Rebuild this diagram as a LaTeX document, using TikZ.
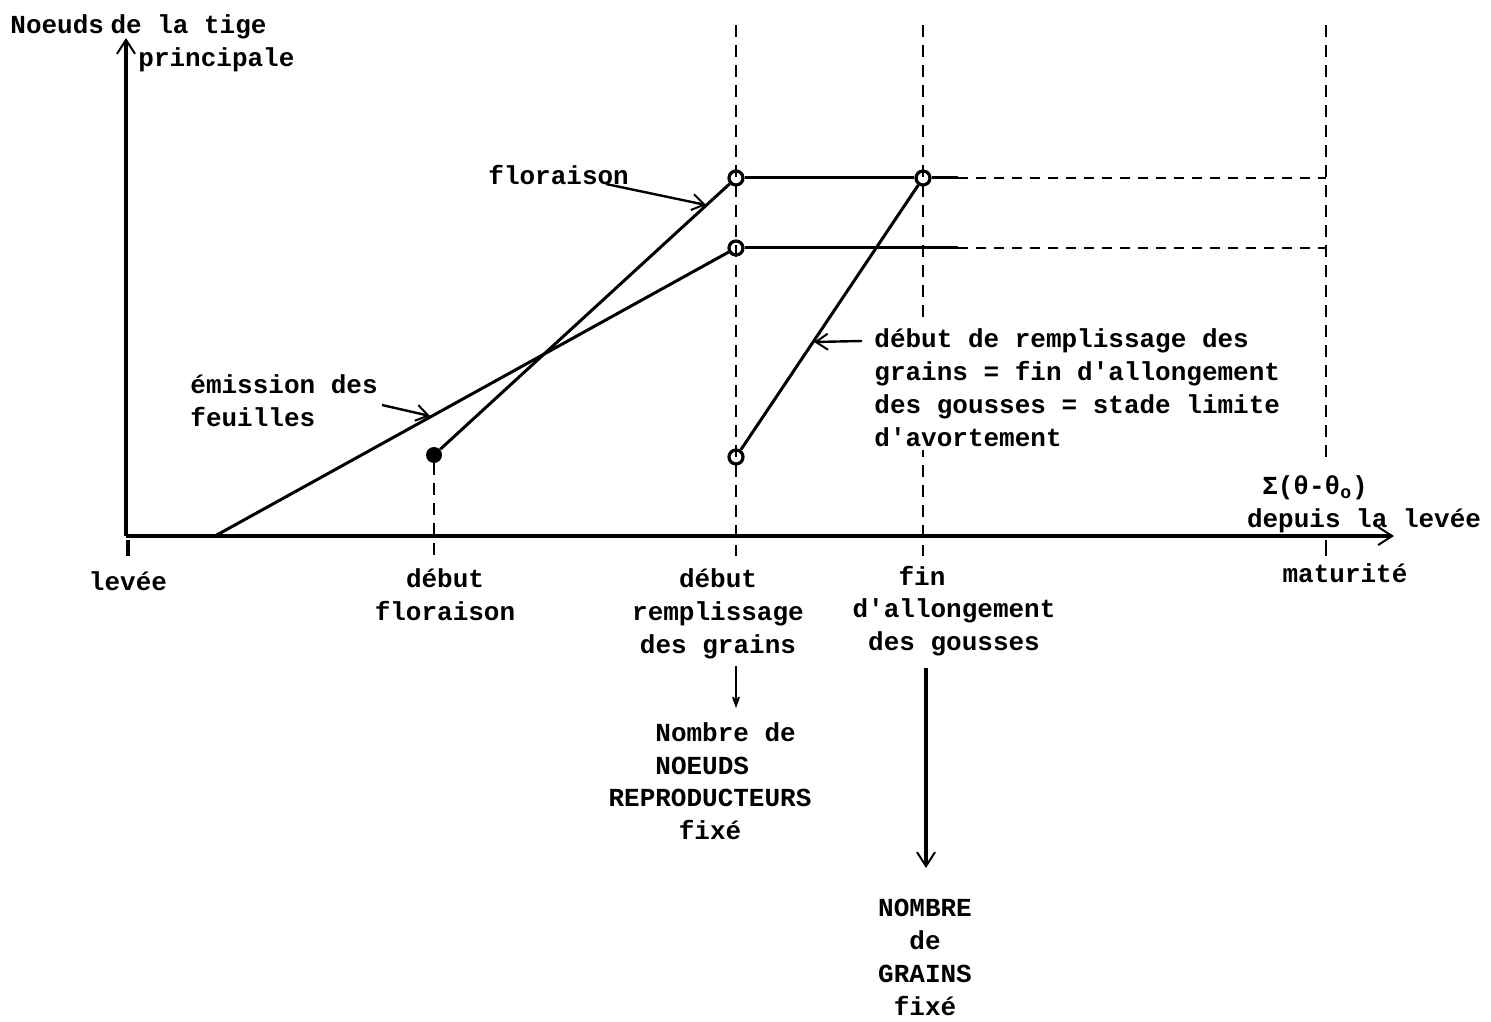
\documentclass[tikz,border=0pt]{standalone}
\usepackage{fontspec}
\setmainfont{Liberation Mono}
\usetikzlibrary{arrows.meta}
\newcommand\qq{\textquotesingle}
\begin{document}
\begin{tikzpicture}[x=0.5pt,y=-0.5pt,
  lbl/.style={font=\bfseries\fontsize{13}{16.5}\selectfont, inner sep=0pt, align=center},
  lbll/.style={font=\bfseries\fontsize{13}{16.5}\selectfont, inner sep=0pt, align=left},
  axis/.style={line width=2pt},
  curve/.style={line width=1.5pt},
  vdash/.style={line width=1.2pt, dash pattern=on 6pt off 4pt},
  hdash/.style={line width=1.3pt, dash pattern=on 5pt off 4pt},
  ring/.style={circle, draw, line width=1.6pt, inner sep=0pt, minimum size=7pt},
  blob/.style={circle, fill, inner sep=0pt, minimum size=8pt},
  stick/.style={-{Straight Barb[length=7pt,width=9pt,line width=1pt]}},
  note/.style={line width=1.2pt, -{Straight Barb[length=6pt,width=8pt,line width=1pt]}}
]
\useasboundingbox (0,0) rectangle (1491,1021);

% vertical dashed lines
\coordinate (v1top) at (736,25);  \coordinate (v1bot) at (736,556);
\coordinate (v2top) at (923,25);  \coordinate (v2bot) at (923,556);
\coordinate (v3top) at (1326,25); \coordinate (v3mid) at (1326,462);
\coordinate (v3low) at (1326,540); \coordinate (v3bot) at (1326,556);
\coordinate (v0bot) at (434,556);
\draw[vdash] (v1top) -- (v1bot);
\draw[vdash] (v2top) -- (v2bot);
\draw[vdash] (v3top) -- (v3mid);
\draw[line width=1.2pt] (v3low) -- (v3bot);

% axes
\coordinate (O) at (126,536);
\coordinate (Ytip) at (126,38);
\coordinate (Xtip) at (1394,536);
\draw[axis, stick] (O) -- (Ytip);
\draw[axis, stick] (O) -- (Xtip);
\coordinate (t0a) at (128,540); \coordinate (t0b) at (128,556);
\draw[line width=2pt] (t0a) -- (t0b);

% points
\node[blob] (df) at (434,455) {};
\node[ring] (fl) at (736,178) {};
\node[ring] (fg) at (923,178) {};
\node[ring] (ef) at (736,248) {};
\node[ring] (dg) at (736,457) {};
\coordinate (e0) at (215,536);
\coordinate (hs1) at (958,248);
\coordinate (hd1) at (1326,248);
\coordinate (hs2) at (958,178);
\coordinate (hd2) at (1326,178);

\draw[vdash] (df) -- (v0bot);

% curves
\draw[curve] (df) -- (fl);
\draw[curve] (fl) -- (fg);
\draw[hdash] (hs2) -- (hd2);
\draw[curve] (e0) -- (ef);
\draw[curve] (ef) -- (hs1);
\draw[hdash] (hs1) -- (hd1);
\draw[curve] (dg) -- (fg);
\draw[curve] (fg) -- (hs2);

% axis titles
\node[lbll, anchor=west] (ytitle1) at (10,27) {Noeuds\hspace{0.25em}de la tige};
\node[lbll, anchor=west] (ytitle2) at (138,60) {principale};
\node[lbl] (xt1) at (1315,488) {Σ(θ-θ\textsubscript{o})};
\node[lbl] (xt2) at (1364,521) {depuis la levée};

% annotations
\node[lbl, anchor=west] (tflo) at (488,175) {floraison};
\coordinate (aflo) at (606,184);
\coordinate (aflotip) at (706,205);
\draw[note] (aflo) -- (aflotip);

\node[lbll, anchor=west] (temi) at (190,401) {émission des\\feuilles};
\coordinate (aemi) at (382,405);
\coordinate (aemitip) at (430,416);
\draw[note] (aemi) -- (aemitip);

\node[lbll, anchor=north west, fill=white, inner sep=2pt] (tgr) at (870,324) {début de remplissage des\\grains = fin d\qq allongement\\des gousses = stade limite\\d\qq avortement};
\coordinate (agr) at (862,341);
\coordinate (agrtip) at (814,342);
\draw[note] (agr) -- (agrtip);

% axis labels
\node[lbl] (llev) at (128,581) {levée};
\node[lbl, anchor=north] (ldf) at (445,568) {début\\floraison};
\node[lbl, anchor=north] (ldr) at (718,568) {début\\remplissage\\des grains};
\node[lbl, anchor=north] (lfa0) at (922,566) {fin};
\node[lbl, anchor=north] (lfa) at (954,598) {d\qq allongement\\des gousses};
\node[lbl] (lmat) at (1345,573) {maturité};

% consequences
\coordinate (c1a) at (736,666);
\coordinate (c1b) at (736,708);
\draw[line width=1.4pt, -{Straight Barb[length=4pt,width=3pt,line width=1pt]}] (c1a) -- (c1b);
\node[lbll, anchor=north west] (n1) at (655,722) {Nombre de\\NOEUDS};
\node[lbl, anchor=north] (n2) at (710,789) {REPRODUCTEURS\\fixé};

\coordinate (c2a) at (926,668);
\coordinate (c2b) at (926,868);
\draw[line width=1.7pt, stick] (c2a) -- (c2b);
\node[lbl, anchor=north] (n3) at (925,899) {NOMBRE\\de\\GRAINS\\fixé};
\end{tikzpicture}
\end{document}
